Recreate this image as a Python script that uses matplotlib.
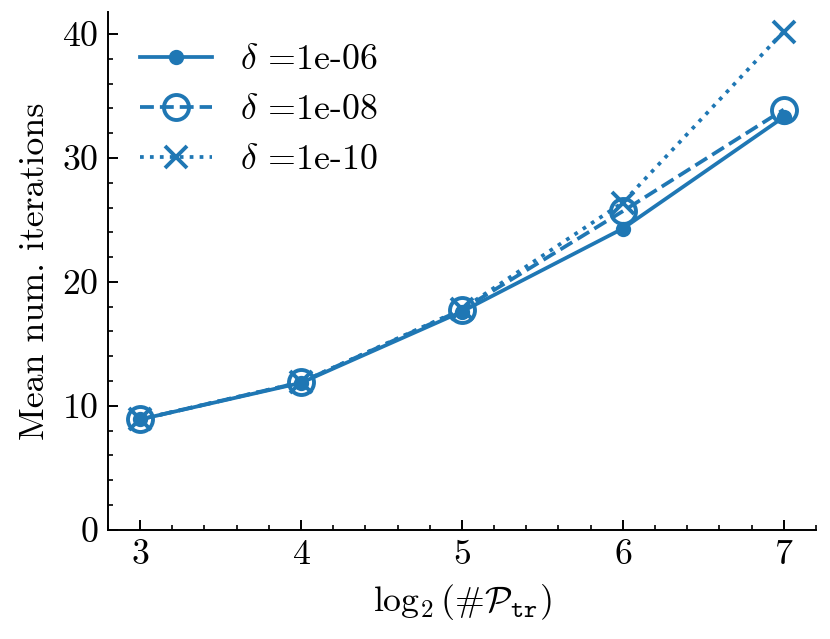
import numpy as np
import matplotlib
matplotlib.use("Agg")
import matplotlib.pyplot as plt
from matplotlib.ticker import MultipleLocator

# data
log2_ntrain = [3, 4, 5, 6, 7]
iters_1e6 = [8.9, 11.85, 17.6, 24.3, 33.3]
iters_1e8 = [8.9, 11.9, 17.75, 25.7, 33.9]
iters_1e10 = [8.9, 11.9, 17.8, 26.4, 40.2]
deltas = ["1e-06", "1e-08", "1e-10"]

plt.rcParams.update({
    "font.family": "serif",
    "font.serif": ["cmr10"],
    "mathtext.fontset": "cm",
    "axes.formatter.use_mathtext": True,
    "font.size": 12.9,
    "axes.linewidth": 0.7,
    "xtick.direction": "in",
    "ytick.direction": "in",
    "xtick.major.size": 3.6,
    "ytick.major.size": 3.6,
    "xtick.minor.size": 1.8,
    "ytick.minor.size": 1.8,
    "xtick.major.width": 0.7,
    "ytick.major.width": 0.7,
    "xtick.minor.width": 0.6,
    "ytick.minor.width": 0.6,
})

fig = plt.figure(figsize=(4.15, 3.195), dpi=200)
ax = fig.add_axes([0.130, 0.171, 0.853, 0.810])

c = "#1f77b4"
ax.plot(log2_ntrain, iters_1e6, "-", color=c, lw=1.35, marker="o", ms=4.5,
        label=r"$\delta$ =" + deltas[0])
ax.plot(log2_ntrain, iters_1e8, "--", color=c, lw=1.35, marker="o", ms=9.0,
        mfc="none", mew=1.4, label=r"$\delta$ =" + deltas[1])
ax.plot(log2_ntrain, iters_1e10, ":", color=c, lw=1.35, marker="x", ms=8.0,
        mew=1.4, label=r"$\delta$ =" + deltas[2])

ax.set_ylim(bottom=0)
ax.set_xticks(log2_ntrain)
ax.xaxis.set_minor_locator(MultipleLocator(0.2))
ax.yaxis.set_major_locator(MultipleLocator(10))
ax.yaxis.set_minor_locator(MultipleLocator(2))
ax.spines["top"].set_visible(False)
ax.spines["right"].set_visible(False)

ax.set_xlabel(r"$\log_2(\#\mathcal{P}_{\mathtt{tr}})$")
ax.set_ylabel("Mean num. iterations")
ax.legend(loc="upper left", frameon=False, handlelength=2.0)

fig.savefig("out.png", dpi=200)
